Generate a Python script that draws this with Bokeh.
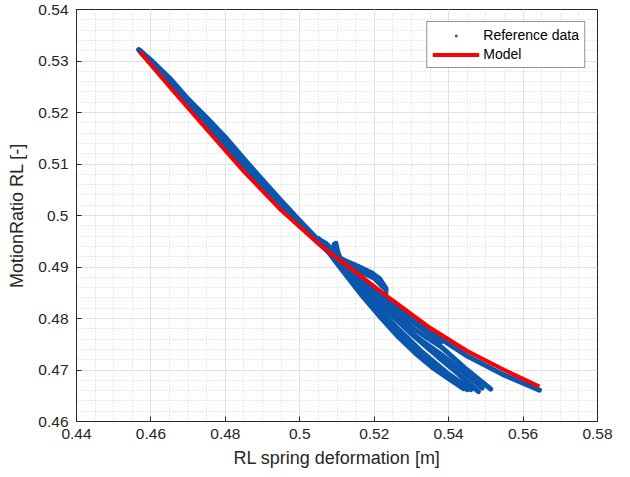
from bokeh.plotting import figure
from bokeh.models import FixedTicker, Legend, LegendItem
from bokeh.embed import file_html
from bokeh.resources import INLINE

# ---- axes / ticks ----
x_ticks = [0.44, 0.46, 0.48, 0.50, 0.52, 0.54, 0.56, 0.58]
x_tick_labels = ["0.44", "0.46", "0.48", "0.5", "0.52", "0.54", "0.56", "0.58"]
y_ticks = [0.46, 0.47, 0.48, 0.49, 0.50, 0.51, 0.52, 0.53, 0.54]
y_tick_labels = ["0.46", "0.47", "0.48", "0.49", "0.5", "0.51", "0.52", "0.53", "0.54"]
x_minor = [round(0.44 + 0.005 * i, 4) for i in range(29)]
y_minor = [round(0.46 + 0.002 * i, 4) for i in range(41)]

# ---- model curve ----
model_x = [0.4570, 0.4650, 0.4750, 0.4850, 0.4950, 0.5050, 0.5150, 0.5250, 0.5350, 0.5450, 0.5550, 0.5644]
model_y = [0.5318, 0.5250, 0.5167, 0.5085, 0.5010, 0.4945, 0.4890, 0.4835, 0.4782, 0.4737, 0.4700, 0.4668]

ref_u1_x = [0.4567, 0.4600, 0.4650, 0.4700, 0.4750, 0.4800, 0.4850, 0.4900, 0.4950, 0.5000, 0.5050, 0.5090]
ref_u1_y = [0.5322, 0.5302, 0.5267, 0.5226, 0.5190, 0.5152, 0.5110, 0.5069, 0.5029, 0.4990, 0.4952, 0.4925]
ref_u2_x = [0.4570, 0.4650, 0.4750, 0.4850, 0.4950, 0.5050]
ref_u2_y = [0.5320, 0.5260, 0.5178, 0.5096, 0.5018, 0.4948]
ref_u3_x = [0.4570, 0.4700, 0.4800, 0.4900, 0.5000, 0.5050]
ref_u3_y = [0.5319, 0.5213, 0.5133, 0.5053, 0.4982, 0.4948]
ref_u4_x = [0.4570, 0.4650, 0.4750, 0.4850, 0.4950, 0.5050]
ref_u4_y = [0.5321, 0.5263, 0.5184, 0.5103, 0.5023, 0.4950]
ref_s1_x = [0.5050, 0.5100, 0.5170, 0.5220, 0.5265, 0.5310, 0.5360, 0.5400, 0.5440]
ref_s1_y = [0.4955, 0.4907, 0.4842, 0.4800, 0.4764, 0.4733, 0.4703, 0.4683, 0.4664]
ref_s7_x = [0.5052, 0.5110, 0.5180, 0.5240, 0.5300, 0.5360, 0.5420, 0.5450]
ref_s7_y = [0.4954, 0.4900, 0.4838, 0.4790, 0.4745, 0.4708, 0.4676, 0.4662]
ref_s2_x = [0.5055, 0.5120, 0.5190, 0.5260, 0.5330, 0.5400, 0.5460]
ref_s2_y = [0.4952, 0.4895, 0.4836, 0.4783, 0.4734, 0.4692, 0.4662]
ref_s3_x = [0.5060, 0.5140, 0.5220, 0.5300, 0.5380, 0.5430, 0.5480]
ref_s3_y = [0.4950, 0.4885, 0.4825, 0.4770, 0.4720, 0.4690, 0.4658]
ref_s6_x = [0.5065, 0.5150, 0.5230, 0.5310, 0.5380, 0.5440, 0.5490]
ref_s6_y = [0.4948, 0.4880, 0.4820, 0.4766, 0.4730, 0.4696, 0.4665]
ref_s4_x = [0.5070, 0.5150, 0.5230, 0.5310, 0.5380, 0.5450, 0.5513]
ref_s4_y = [0.4946, 0.4885, 0.4828, 0.4778, 0.4745, 0.4700, 0.4663]
ref_s8_x = [0.5070, 0.5150, 0.5240, 0.5320, 0.5380]
ref_s8_y = [0.4942, 0.4884, 0.4830, 0.4785, 0.4755]
ref_s5_x = [0.5060, 0.5150, 0.5250, 0.5350, 0.5450, 0.5550, 0.5644]
ref_s5_y = [0.4940, 0.4882, 0.4826, 0.4774, 0.4727, 0.4690, 0.4661]
ref_b1_x = [0.5095, 0.5120, 0.5155, 0.5190, 0.5215, 0.5232, 0.5230]
ref_b1_y = [0.4922, 0.4913, 0.4902, 0.4890, 0.4877, 0.4858, 0.4840]
ref_b2_x = [0.5100, 0.5150, 0.5200, 0.5225]
ref_b2_y = [0.4915, 0.4895, 0.4878, 0.4860]
ref_sp_x = [0.5088, 0.5092, 0.5097, 0.5102, 0.5108]
ref_sp_y = [0.4922, 0.4944, 0.4946, 0.4930, 0.4918]

ref_xs = [ref_u1_x, ref_u2_x, ref_u3_x, ref_u4_x, ref_s1_x, ref_s7_x, ref_s2_x, ref_s3_x,
          ref_s6_x, ref_s4_x, ref_s8_x, ref_s5_x, ref_b1_x, ref_b2_x, ref_sp_x]
ref_ys = [ref_u1_y, ref_u2_y, ref_u3_y, ref_u4_y, ref_s1_y, ref_s7_y, ref_s2_y, ref_s3_y,
          ref_s6_y, ref_s4_y, ref_s8_y, ref_s5_y, ref_b1_y, ref_b2_y, ref_sp_y]
ref_all_x = [v for xs in ref_xs for v in xs]
ref_all_y = [v for ys in ref_ys for v in ys]

BLUE = "#0b57ad"
RED = "#ff0000"
DARK = "#262626"
FONT = "Liberation Sans"

p = figure(width=630, height=477, x_range=(0.44, 0.58), y_range=(0.46, 0.54),
           output_backend="svg", toolbar_location=None)
p.min_border_left = 76
p.min_border_right = 33
p.min_border_top = 9
p.min_border_bottom = 56
p.background_fill_color = "white"
p.border_fill_color = "white"
p.outline_line_color = DARK
p.outline_line_width = 1

p.xaxis.ticker = FixedTicker(ticks=x_ticks, minor_ticks=x_minor)
p.yaxis.ticker = FixedTicker(ticks=y_ticks, minor_ticks=y_minor)
p.xaxis.major_label_overrides = {t: l for t, l in zip(x_ticks, x_tick_labels)}
p.yaxis.major_label_overrides = {t: l for t, l in zip(y_ticks, y_tick_labels)}
p.xaxis.axis_label = "RL spring deformation [m]"
p.yaxis.axis_label = "MotionRatio RL [-]"

for ax in (p.xaxis[0], p.yaxis[0]):
    ax.axis_line_color = DARK
    ax.major_tick_line_color = DARK
    ax.major_tick_in = 5
    ax.major_tick_out = 0
    ax.minor_tick_in = 0
    ax.minor_tick_out = 0
    ax.major_label_text_font = FONT
    ax.major_label_text_font_size = "15.5px"
    ax.major_label_text_color = DARK
    ax.axis_label_text_font = FONT
    ax.axis_label_text_font_size = "18px"
    ax.axis_label_text_font_style = "normal"
    ax.axis_label_text_color = DARK
p.xaxis.major_label_standoff = 7
p.yaxis.major_label_standoff = 8
p.xaxis.axis_label_standoff = 6
p.yaxis.axis_label_standoff = 8

for g in (p.xgrid[0], p.ygrid[0]):
    g.grid_line_color = "#e0e0e0"
    g.grid_line_width = 1
    g.minor_grid_line_color = "#d2d2d2"
    g.minor_grid_line_dash = "1 2"
    g.minor_grid_line_width = 1

p.multi_line(xs=ref_xs, ys=ref_ys, line_color=BLUE, line_width=5,
             line_cap="round", line_join="round")
ref_r = p.scatter(x=ref_all_x, y=ref_all_y, size=2.5, marker="circle",
                  fill_color=BLUE, line_color=None)
model_r = p.line(x=model_x, y=model_y, line_color=RED, line_width=4)

legend = Legend(items=[LegendItem(label="Reference data", renderers=[ref_r]),
                       LegendItem(label="Model", renderers=[model_r])],
                location="top_right")
legend.border_line_color = DARK
legend.border_line_width = 1
legend.background_fill_color = "white"
legend.background_fill_alpha = 1
legend.label_text_font = FONT
legend.label_text_font_size = "14px"
legend.label_text_color = "#000000"
legend.glyph_width = 47
legend.glyph_height = 7
legend.label_height = 16
legend.label_standoff = 4
legend.padding = 5
legend.spacing = 3
legend.margin = 12
p.add_layout(legend)

open("out.html", "w").write(file_html(p, INLINE))
